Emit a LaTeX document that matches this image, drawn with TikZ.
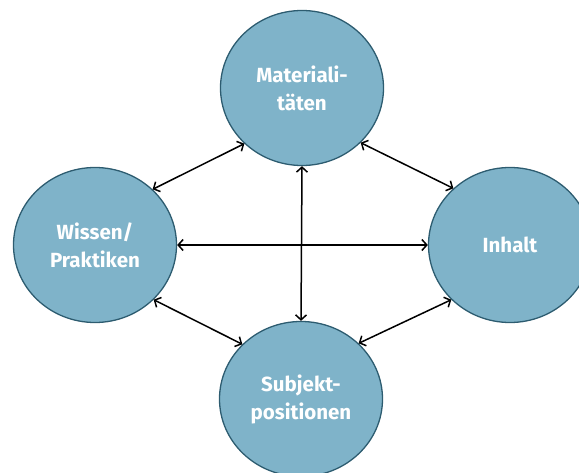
\documentclass[tikz,border=0pt]{standalone}
\usepackage{fontspec}
\setmainfont{Fira Sans}
\usetikzlibrary{shapes.geometric, arrows.meta}
\definecolor{circfill}{RGB}{127,179,201}
\definecolor{circline}{RGB}{45,92,112}
\begin{document}
\begin{tikzpicture}[x=1pt,y=-1pt]

\tikzset{vertex/.style = {shape=ellipse,draw=circline,fill=circfill,line width=1.3pt,minimum width=163pt,minimum height=155pt,inner sep=0pt,text=white,align=center,font=\fontsize{20.5}{28}\selectfont\bfseries}}
\tikzset{edge/.style = {{Straight Barb[length=5pt,width=11pt]}-{Straight Barb[length=5pt,width=11pt]},line width=1.5pt}}
\useasboundingbox (0,0) rectangle (579,473);
%verticies
\node[vertex] (mat) at (302,88) {Materiali-\\täten};
\node[vertex] (wis) at (95,245) {Wissen/\\Praktiken};
\node[vertex] (inh) at (510,245) {Inhalt};
\node[vertex] (sub) at (301,399) {Subjekt-\\positionen};
%edges
\draw [edge] (wis.44) -- (mat.224);
\draw [edge] (mat.317) -- (inh.135);
\draw [edge] (mat.south) -- (sub.north);
\draw [edge] (wis.east) -- (inh.west);
\draw [edge] (wis.317) -- (sub.137);
\draw [edge] (sub.44) -- (inh.223);

\end{tikzpicture}
\end{document}
